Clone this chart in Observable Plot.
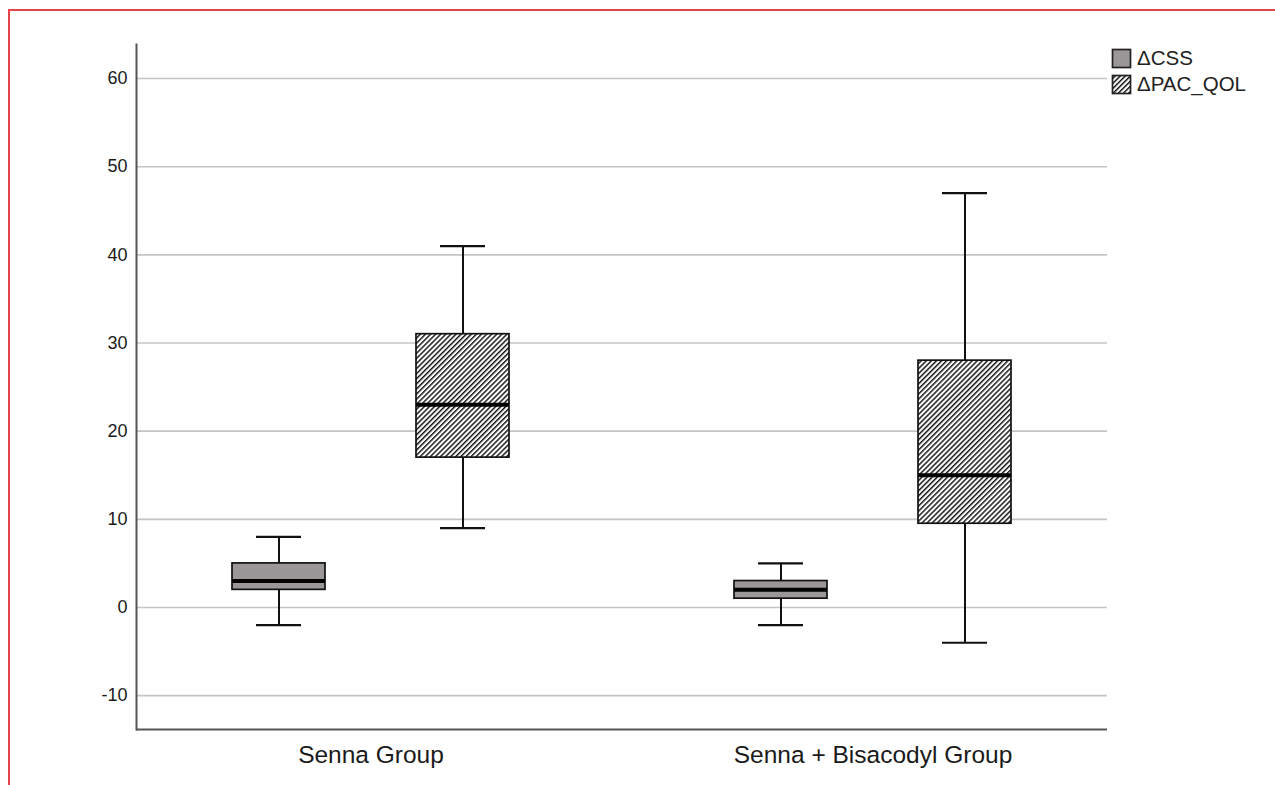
<!DOCTYPE html>
<html>
<head>
<meta charset="utf-8">
<script src="https://cdn.jsdelivr.net/npm/d3@7"></script>
<script src="https://cdn.jsdelivr.net/npm/@observablehq/plot@0.6"></script>
<style>
  html, body { margin: 0; padding: 0; background: #fff; }
  #wrap { position: relative; width: 1275px; height: 785px; overflow: hidden; font-family: Arial, "Liberation Sans", sans-serif; }
  #border { position: absolute; left: 8px; top: 9px; right: -5px; bottom: -5px; border-top: 2px solid #e5454a; border-left: 2px solid #e5454a; pointer-events: none; }
  #legend { position: absolute; left: 1111px; top: 45px; font-size: 20.5px; color: #222; }
  #legend .row { display: flex; align-items: center; height: 26px; }
  #legend svg { margin-right: 5px; }
</style>
</head>
<body>
<div id="wrap">
  <div id="chart"></div>
  <div id="legend"></div>
  <div id="border"></div>
</div>
<script>
// ---- data ----
const groups = ["Senna Group", "Senna + Bisacodyl Group"];
const series = ["ΔCSS", "ΔPAC_QOL"];
// values ordered: [Senna ΔCSS, Senna ΔPAC_QOL, Senna+Bis ΔCSS, Senna+Bis ΔPAC_QOL]
const minValues = [-2, 9, -2, -4];
const q1Values = [2, 17, 1, 9.5];
const medianValues = [3, 23, 2, 15];
const q3Values = [5, 31, 3, 28];
const maxValues = [8, 41, 5, 47];
const yTicks = [-10, 0, 10, 20, 30, 40, 50, 60];
const yDomain = [-13.84, 63.86];

const rows = groups.flatMap((g, i) => series.map((s, j) => {
  const k = i * series.length + j;
  return {group: g, series: s, min: minValues[k], q1: q1Values[k], med: medianValues[k], q3: q3Values[k], max: maxValues[k]};
}));
const cssRows = rows.filter(d => d.series === series[0]);
const pacRows = rows.filter(d => d.series === series[1]);

// facet layout: gap between the two facet panels (step * paddingInner)
const fxPaddingInner = 0.0657;
const plotLeft = 136, plotRight = 1108;
const fxStep = (plotRight - plotLeft) / (groups.length - fxPaddingInner);
const fxGap = fxStep * fxPaddingInner;

// horizontal rules spanning the whole frame across both facet panels
function spanRuleY(values, opts) {
  return [
    Plot.ruleY(values, {...opts, facetAnchor: "left", insetRight: -fxGap}),
    Plot.ruleY(values, {...opts, facetAnchor: "right"})
  ];
}

const ink = "#111";
const chart = Plot.plot({
  width: 1275,
  height: 785,
  marginTop: 44,
  marginBottom: 56,
  marginLeft: plotLeft,
  marginRight: 1275 - plotRight,
  style: {fontFamily: "Arial, 'Liberation Sans', sans-serif", fontSize: "18px", color: "#1a1a1a", background: "transparent", overflow: "visible"},
  fx: {domain: groups, paddingInner: fxPaddingInner, paddingOuter: 0},
  x: {domain: series, paddingInner: 0.497, paddingOuter: 0.5175, axis: null},
  y: {domain: yDomain},
  marks: [
    spanRuleY(yTicks, {stroke: "#c4c4c4", strokeWidth: 1.6}),
    Plot.ruleX(rows, {fx: "group", x: "series", y1: "min", y2: "max", stroke: ink, strokeWidth: 2}),
    Plot.tickY(rows, {fx: "group", x: "series", y: "min", insetLeft: 24, insetRight: 24, stroke: ink, strokeWidth: 2.2}),
    Plot.tickY(rows, {fx: "group", x: "series", y: "max", insetLeft: 24, insetRight: 24, stroke: ink, strokeWidth: 2.2}),
    Plot.barY(cssRows, {fx: "group", x: "series", y1: "q1", y2: "q3", fill: "#9b9698", stroke: ink, strokeWidth: 1.7}),
    Plot.barY(pacRows, {fx: "group", x: "series", y1: "q1", y2: "q3", fill: "url(#hatch)", stroke: ink, strokeWidth: 1.7}),
    Plot.tickY(rows, {fx: "group", x: "series", y: "med", stroke: "#000", strokeWidth: 4}),
    spanRuleY([yDomain[0]], {stroke: "#555", strokeWidth: 2}),
    Plot.frame({anchor: "left", facetAnchor: "left", stroke: "#555", strokeWidth: 2}),
    Plot.axisY(yTicks, {anchor: "left", tickSize: 0, tickPadding: 9, fontSize: 18, tickFormat: d => String(d)}),
    Plot.axisFx({anchor: "bottom", tickSize: 0, tickPadding: 16, fontSize: 24.5, label: null})
  ]
});

// hatch pattern definition
const svgEl = chart.tagName.toLowerCase() === "svg" ? chart : chart.querySelector("svg");
const pat = d3.select(svgEl).insert("defs", ":first-child").append("pattern")
  .attr("id", "hatch").attr("patternUnits", "userSpaceOnUse")
  .attr("width", 3.6).attr("height", 3.6)
  .attr("patternTransform", "rotate(45)");
pat.append("rect").attr("width", 3.6).attr("height", 3.6).attr("fill", "#fff");
pat.append("line").attr("x1", 0.7).attr("y1", 0).attr("x2", 0.7).attr("y2", 3.6)
  .attr("stroke", "#111").attr("stroke-width", 1.5);

document.getElementById("chart").appendChild(chart);

// legend
const legend = d3.select("#legend");
series.forEach((s, i) => {
  const row = legend.append("div").attr("class", "row");
  const sw = row.append("svg").attr("width", 21).attr("height", 21);
  if (i === 1) {
    const p = sw.append("defs").append("pattern")
      .attr("id", "hatchLegend").attr("patternUnits", "userSpaceOnUse")
      .attr("width", 3.6).attr("height", 3.6).attr("patternTransform", "rotate(45)");
    p.append("rect").attr("width", 3.6).attr("height", 3.6).attr("fill", "#fff");
    p.append("line").attr("x1", 0.7).attr("y1", 0).attr("x2", 0.7).attr("y2", 3.6)
      .attr("stroke", "#111").attr("stroke-width", 1.5);
  }
  sw.append("rect").attr("x", 1.5).attr("y", 1.5).attr("width", 18).attr("height", 18)
    .attr("fill", i === 0 ? "#9b9698" : "url(#hatchLegend)")
    .attr("stroke", "#222").attr("stroke-width", 1.7);
  row.append("span").text(s);
});
</script>
</body>
</html>
